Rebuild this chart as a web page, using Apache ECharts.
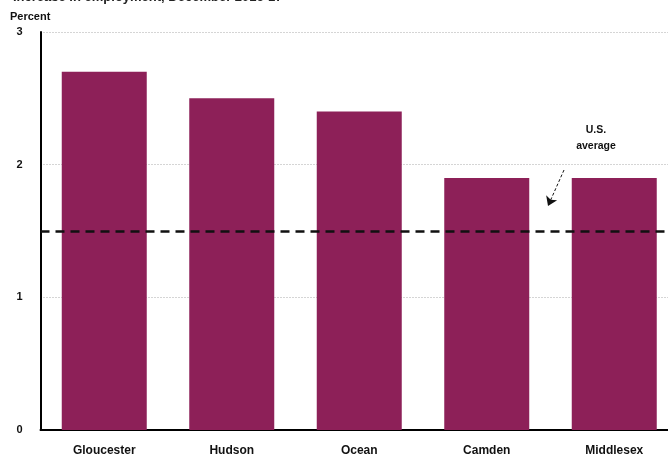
<!DOCTYPE html>
<html><head><meta charset="utf-8">
<script src="https://cdn.jsdelivr.net/npm/echarts@6/dist/echarts.min.js"></script>
<style>html,body{margin:0;padding:0;background:#fff;overflow:hidden;width:668px;height:458px}#c{width:678px;height:458px}</style>
</head><body><div id="c"></div>
<script>
const categories = ['Gloucester', 'Hudson', 'Ocean', 'Camden', 'Middlesex'];
const values = [2.7, 2.5, 2.4, 1.9, 1.9];
const usAverage = 1.5;
const yTicks = [0, 1, 2, 3];

const chart = echarts.init(document.getElementById('c'));
const font = 'Liberation Sans, Arial, sans-serif';
chart.setOption({
  animation: false,
  title: {
    text: 'Increase in employment, December 2016-17',
    left: 8, top: -14,
    textStyle: {fontFamily: font, fontSize: 13, fontWeight: 'bold', color: '#222'}
  },
  graphic: [
    {type: 'text', left: 10, top: 11, style: {text: 'Percent', font: 'bold 11px ' + font, fill: '#111'}},
    {type: 'text', x: 596, y: 122, style: {text: 'U.S.\naverage', font: 'bold 10.5px ' + font, fill: '#111', align: 'center', lineHeight: 16}}
  ],
  grid: {left: 40.5, right: 0, top: 32, bottom: 28, containLabel: false},
  xAxis: {
    type: 'category', data: categories,
    axisLine: {lineStyle: {color: '#000', width: 2}},
    axisTick: {show: false},
    axisLabel: {fontFamily: font, fontSize: 12, fontWeight: 'bold', color: '#111', margin: 15}
  },
  yAxis: {
    type: 'value', min: yTicks[0], max: yTicks[yTicks.length - 1], interval: 1,
    axisLine: {show: true, lineStyle: {color: '#000', width: 2}},
    axisTick: {show: false},
    axisLabel: {fontFamily: font, fontSize: 11, fontWeight: 'bold', color: '#111', margin: 18},
    splitLine: {lineStyle: {color: '#aaa', type: [1, 2], width: 1}}
  },
  series: [{
    type: 'bar', data: values, barWidth: 85,
    itemStyle: {color: '#8d2058'},
    markLine: {
      silent: true, symbol: 'none', label: {show: false},
      data: [
        {yAxis: usAverage, lineStyle: {color: '#111', type: [9, 6], width: 2.5}},
        [{x: 564, y: 170, symbol: 'none'}, {x: 548, y: 206, symbol: 'arrow', symbolSize: 9, lineStyle: {color: '#111', type: [3, 2], width: 1}}]
      ]
    }
  }]
});
</script></body></html>
